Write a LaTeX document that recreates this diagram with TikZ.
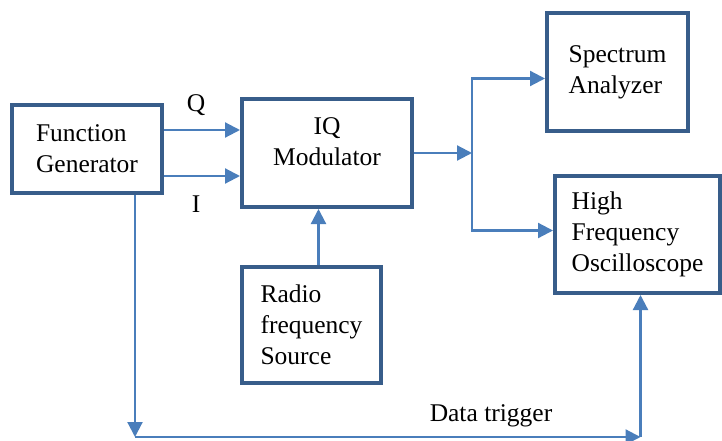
\documentclass[tikz,border=0pt]{standalone}
\usepackage{fontspec}
\setmainfont{Liberation Serif}
\usepackage{xcolor}
\usetikzlibrary{arrows.meta,calc}
\definecolor{boxblue}{RGB}{56,93,138}
\definecolor{wireblue}{RGB}{74,126,187}

\begin{document}
\begin{tikzpicture}[x=1pt,y=-1pt,
  block/.style={draw=boxblue, line width=4pt, align=left, inner sep=0pt,
    font=\fontsize{25.5}{31}\selectfont},
  sig/.style={draw=wireblue, line width=2.2pt, -{Triangle[length=15pt,width=15pt]}},
  lbl/.style={font=\fontsize{25.5}{31}\selectfont, anchor=base}]
\useasboundingbox (0,0) rectangle (722,441);
% Blocks
\node[block, minimum width=150, minimum height=88] (fg) at (87,149) {Function\\Generator};
\node[block, minimum width=170, minimum height=108, align=center, text depth=22pt] (iq) at (327,153) {IQ\\Modulator};
\node[block, minimum width=139, minimum height=116] (rf) at (311.5,325) {Radio\\frequency\\Source};
\node[block, minimum width=141, minimum height=118] (sa) at (617.5,72) {Spectrum\\Analyzer};
\node[block, minimum width=165, minimum height=117] (hfo) at (637.5,234.5) {High\\Frequency\\Oscilloscope};

% I and Q lines
\coordinate (qout) at ([yshift=19pt]fg.east);
\coordinate (iout) at ([yshift=-27pt]fg.east);
\draw[sig] (qout) -- (qout -| iq.west);
\draw[sig] (iout) -- (iout -| iq.west);
\node[lbl] (q) at (196,111) {Q};
\node[lbl] (i) at (196,212) {I};

% RF into modulator
\coordinate (rfout) at ([xshift=7pt]rf.north);
\draw[sig] (rfout) -- (rfout |- iq.south);

% Modulator output split
\coordinate (j) at (472,153);
\coordinate (sain) at ([yshift=-6.5pt]sa.west);
\coordinate (hfoin) at ([yshift=4pt]hfo.west);
\draw[sig] (iq.east) -- (j);
\draw[sig] (j) |- (sain);
\draw[sig] (j) |- (hfoin);

% Trigger
\coordinate (trig) at ([xshift=48pt]fg.south);
\coordinate (bl) at (trig |- 0,437);
\coordinate (br) at ([xshift=3pt]hfo.south |- bl);
\draw[sig] (trig) -- (bl);
\draw[sig] (bl) -- (br);
\draw[sig] (br) -- (br |- hfo.south);
\node[lbl] (dt) at (491,421) {Data trigger};
\end{tikzpicture}
\end{document}
